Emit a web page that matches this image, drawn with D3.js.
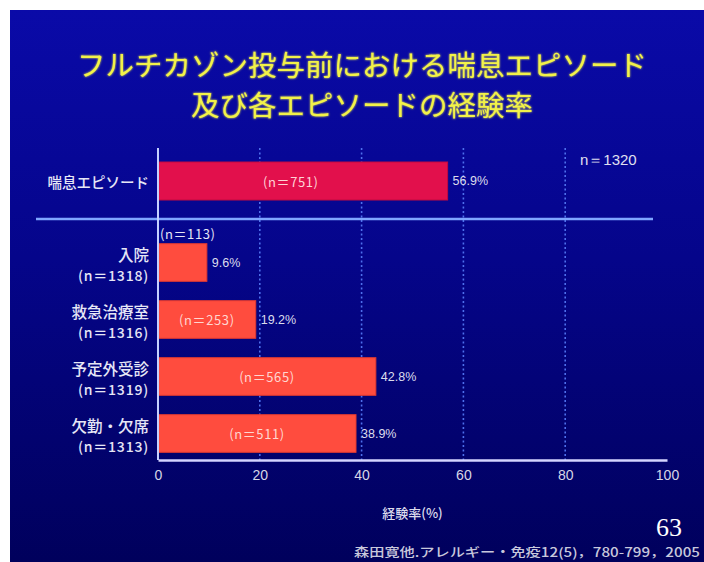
<!DOCTYPE html>
<html>
<head>
<meta charset="utf-8">
<script src="https://cdn.jsdelivr.net/npm/d3@7"></script>
<style>
  html, body { margin: 0; padding: 0; background: #ffffff; }
  svg { display: block; }
</style>
</head>
<body>
<svg id="chart" width="704" height="562"></svg>
<script>
// Overall asthma-episode rate (top bar)
const summaryCategory = ["喘息エピソード"];
const summaryRate = [56.9];
const summaryCount = [751];
const summaryN = 1320;

// Individual episode types (lower bars)
const episodeCategories = ["入院", "救急治療室", "予定外受診", "欠勤・欠席"];
const episodeRates = [9.6, 19.2, 42.8, 38.9];
const episodeCounts = [113, 253, 565, 511];
const episodeN = [1318, 1316, 1319, 1313];

const xTicks = [0, 20, 40, 60, 80, 100];

const titleLines = ["フルチカゾン投与前における喘息エピソード", "及び各エピソードの経験率"];
const xAxisTitle = "経験率(%)";
const citation = "森田寛他.アレルギー・免疫12(5)，780-799，2005";
const pageNumber = "63";

const svg = d3.select("#chart");
const W = 704, H = 562;
const jp = "'Noto Sans CJK JP', 'Noto Sans', sans-serif";
const narrow = "'Liberation Sans Narrow', 'Liberation Sans', Arial, sans-serif";

// Slide background
const defs = svg.append("defs");
const grad = defs.append("linearGradient").attr("id", "bg").attr("x1", 0).attr("y1", 0).attr("x2", 0).attr("y2", 1);
grad.append("stop").attr("offset", "0%").attr("stop-color", "#0a0aa8");
grad.append("stop").attr("offset", "45%").attr("stop-color", "#05058a");
grad.append("stop").attr("offset", "100%").attr("stop-color", "#00005c");
const glow = defs.append("filter").attr("id", "glow").attr("x", "-5%").attr("y", "-20%").attr("width", "110%").attr("height", "140%");
glow.append("feGaussianBlur").attr("stdDeviation", 0.8).attr("result", "b");
const m = glow.append("feMerge");
m.append("feMergeNode").attr("in", "b");
m.append("feMergeNode").attr("in", "SourceGraphic");

svg.append("rect").attr("width", W).attr("height", H).attr("fill", "#ffffff");
svg.append("rect").attr("x", 10).attr("y", 10).attr("width", W - 10).attr("height", H - 10).attr("fill", "url(#bg)");

// Title
svg.append("g").selectAll("text").data(titleLines).join("text")
  .attr("x", 362).attr("y", (d, i) => 63 + i * 40)
  .attr("text-anchor", "middle").attr("dominant-baseline", "central")
  .attr("font-family", jp).attr("font-size", 28.5).attr("font-weight", 400)
  .attr("fill", "#f2f248").attr("filter", "url(#glow)")
  .text(d => d);

// Scales
const x = d3.scaleLinear().domain([0, 100]).range([158, 667]);
const yTop = d3.scaleBand().domain(summaryCategory).range([162, 200]);
const yBottom = d3.scaleBand().domain(episodeCategories).range([234, 462])
  .paddingInner(0.34).paddingOuter(0.17);
const axisY = 460;

// Dotted gridlines
svg.append("g").selectAll("line").data(xTicks.filter(t => t > 0 && t < 100)).join("line")
  .attr("x1", d => x(d)).attr("x2", d => x(d))
  .attr("y1", 148).attr("y2", axisY)
  .attr("stroke", "#4e70ec").attr("stroke-width", 1.6).attr("stroke-dasharray", "2,2.5");

// Separator between overall and individual episodes
svg.append("line").attr("x1", 36).attr("x2", 653).attr("y1", 219).attr("y2", 219)
  .attr("stroke", "#7fa6ff").attr("stroke-width", 2.5);

// Top bar
const topData = summaryCategory.map((c, i) => ({ c, v: summaryRate[i], n: summaryCount[i] }));
svg.append("g").selectAll("rect").data(topData).join("rect")
  .attr("x", x(0)).attr("y", d => yTop(d.c))
  .attr("width", d => x(d.v) - x(0)).attr("height", yTop.bandwidth())
  .attr("fill", "#e2104c").attr("stroke", "#c10a40").attr("stroke-width", 1);

// Lower bars
const botData = episodeCategories.map((c, i) => ({ c, v: episodeRates[i], n: episodeCounts[i], total: episodeN[i] }));
svg.append("g").selectAll("rect").data(botData).join("rect")
  .attr("x", x(0)).attr("y", d => yBottom(d.c))
  .attr("width", d => x(d.v) - x(0)).attr("height", yBottom.bandwidth())
  .attr("fill", "#ff4c3e").attr("stroke", "#e23a30").attr("stroke-width", 1);

// Y axis line
svg.append("line").attr("x1", x(0)).attr("x2", x(0)).attr("y1", 148).attr("y2", axisY)
  .attr("stroke", "#c4d0ff").attr("stroke-width", 2);

// X axis with tick labels
const xAxis = d3.axisBottom(x).tickValues(xTicks).tickSize(0).tickPadding(10).tickFormat(d3.format("d"));
const gx = svg.append("g").attr("transform", `translate(0,${axisY})`).call(xAxis);
gx.select(".domain").attr("stroke", "#d4d4ff").attr("stroke-width", 2.5);
gx.selectAll("text").attr("font-family", narrow).attr("font-size", 14).attr("fill", "#d6d6e6");

// Axis title
svg.append("text").attr("x", (x(0) + x(100)) / 2).attr("y", 512)
  .attr("text-anchor", "middle").attr("dominant-baseline", "central")
  .attr("font-family", jp).attr("font-size", 13).attr("font-weight", 500).attr("fill", "#dcdcec")
  .text(xAxisTitle);

// Category labels
svg.append("g").selectAll("text").data(topData).join("text")
  .attr("x", 149).attr("y", d => yTop(d.c) + yTop.bandwidth() / 2)
  .attr("text-anchor", "end").attr("dominant-baseline", "central")
  .attr("font-family", jp).attr("font-size", 14.5).attr("font-weight", 500).attr("fill", "#e6e6f6")
  .text(d => d.c);

const catG = svg.append("g").selectAll("g").data(botData).join("g")
  .attr("transform", d => `translate(149,${yBottom(d.c) + yBottom.bandwidth() / 2})`);
catG.append("text").attr("y", -9)
  .attr("text-anchor", "end").attr("dominant-baseline", "central")
  .attr("font-family", jp).attr("font-size", 15.5).attr("font-weight", 500).attr("fill", "#e6e6f6")
  .text(d => d.c);
catG.append("text").attr("y", 12)
  .attr("text-anchor", "end").attr("dominant-baseline", "central")
  .attr("font-family", jp).attr("font-size", 14).attr("font-weight", 500).attr("fill", "#e6e6f6")
  .attr("letter-spacing", 0.8)
  .text(d => `(n＝${d.total})`);

// Counts inside the bars (above the bar when it is too short)
svg.append("g").selectAll("text").data(topData).join("text")
  .attr("x", d => (x(0) + x(d.v)) / 2 - 12).attr("y", d => yTop(d.c) + yTop.bandwidth() / 2)
  .attr("text-anchor", "middle").attr("dominant-baseline", "central")
  .attr("font-family", jp).attr("font-size", 13).attr("fill", "#ffd2d6")
  .attr("letter-spacing", 0.6)
  .text(d => `(n＝${d.n})`);

svg.append("g").selectAll("text").data(botData).join("text")
  .each(function (d) {
    const inside = x(d.v) - x(0) > 70;
    d3.select(this)
      .attr("x", inside ? (x(0) + x(d.v)) / 2 : x(0) + 2)
      .attr("y", inside ? yBottom(d.c) + yBottom.bandwidth() / 2 : yBottom(d.c) - 10)
      .attr("text-anchor", inside ? "middle" : "start")
      .attr("fill", inside ? "#ffd6d0" : "#e6e6f6");
  })
  .attr("dominant-baseline", "central")
  .attr("font-family", jp).attr("font-size", 13)
  .attr("letter-spacing", 0.6)
  .text(d => `(n＝${d.n})`);

// Percent labels at the bar ends
svg.append("g").selectAll("text").data(topData.concat(botData)).join("text")
  .attr("x", d => x(d.v) + 5)
  .attr("y", (d, i) => i === 0 ? yTop(d.c) + yTop.bandwidth() / 2 : yBottom(d.c) + yBottom.bandwidth() / 2)
  .attr("dominant-baseline", "central")
  .attr("font-family", narrow).attr("font-size", 12.5).attr("fill", "#dcdcec")
  .text(d => `${d.v.toFixed(1)}%`);

// Sample size note
svg.append("text").attr("x", 580).attr("y", 159).attr("dominant-baseline", "central")
  .attr("font-family", "'Liberation Sans', Arial, sans-serif").attr("font-size", 15).attr("fill", "#e0e0f0")
  .text(`n＝${summaryN}`);

// Page number and source
svg.append("text").attr("x", 682).attr("y", 527).attr("text-anchor", "end").attr("dominant-baseline", "central")
  .attr("font-family", "'Liberation Serif', 'DejaVu Serif', serif").attr("font-size", 26).attr("fill", "#ffffff")
  .text(pageNumber);
svg.append("text").attr("x", 354).attr("y", 551).attr("dominant-baseline", "central")
  .attr("font-family", jp).attr("font-size", 12.5).attr("font-weight", 500).attr("fill", "#c8c8dc")
  .attr("textLength", 346).attr("lengthAdjust", "spacingAndGlyphs")
  .text(citation);
</script>
</body>
</html>
